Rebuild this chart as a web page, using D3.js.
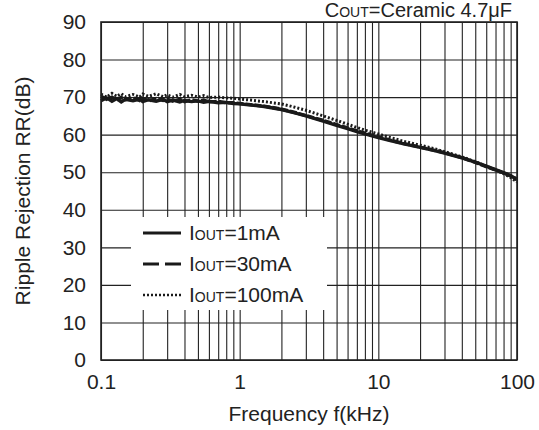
<!DOCTYPE html>
<html>
<head>
<meta charset="utf-8">
<script src="https://cdn.jsdelivr.net/npm/d3@7"></script>
<style>
  body { margin: 0; background: #fff; }
  text { font-family: "Liberation Sans", Arial, sans-serif; fill: #222; }
</style>
</head>
<body>
<script>
"use strict";

// frequency points (kHz)
var freq = [0.1, 0.11, 0.12, 0.13, 0.14, 0.15, 0.17, 0.19, 0.2, 0.22, 0.25, 0.28, 0.3, 0.33, 0.37, 0.4,
  0.45, 0.5, 0.55, 0.6, 0.7, 0.8, 0.9, 1, 1.2, 1.5, 2, 2.5, 3, 4, 5, 6, 7, 8, 10, 12, 15, 20, 25, 30,
  40, 50, 60, 70, 80, 90, 100];

// ripple rejection (dB)
var rr1mA = [69.0, 69.8, 68.9, 69.6, 68.7, 69.4, 69.0, 69.5, 68.8, 69.3, 68.9, 69.4, 68.8, 69.2, 68.7, 69.1,
  68.8, 69.0, 68.6, 68.9, 68.5, 68.6, 68.3, 68.2, 67.9, 67.5, 66.7, 65.8, 65.0, 63.6, 62.5, 61.6, 60.8, 60.2,
  59.2, 58.5, 57.6, 56.6, 55.8, 55.1, 53.8, 52.7, 51.6, 50.7, 49.9, 49.1, 48.0];
var rr30mA = [70.2, 69.4, 70.0, 69.2, 69.9, 69.3, 69.8, 69.1, 69.7, 69.0, 69.6, 69.1, 69.5, 68.9, 69.4, 68.8,
  69.3, 68.9, 69.2, 68.7, 68.9, 68.5, 68.5, 68.3, 68.0, 67.6, 66.8, 65.9, 65.1, 63.8, 62.7, 61.8, 61.0, 60.4,
  59.4, 58.6, 57.7, 56.7, 55.9, 55.2, 53.9, 52.6, 51.5, 50.6, 49.8, 49.0, 48.2];
var rr100mA = [70.8, 70.0, 71.0, 70.2, 70.9, 70.1, 70.7, 70.0, 70.8, 70.2, 70.9, 70.1, 70.6, 70.0, 70.7, 70.1,
  70.5, 70.0, 70.4, 69.9, 70.0, 69.8, 69.7, 69.5, 69.2, 68.8, 68.2, 67.3, 66.5, 65.0, 63.8, 62.8, 61.9, 61.2,
  60.2, 59.3, 58.3, 57.2, 56.3, 55.5, 54.1, 52.8, 51.6, 50.6, 49.6, 48.6, 47.4];

var xTicks = [0.1, 1, 10, 100];
var xTickLabels = ["0.1", "1", "10", "100"];
var yTicks = [0, 10, 20, 30, 40, 50, 60, 70, 80, 90];
var seriesNames = ["=1mA", "=30mA", "=100mA"];
var seriesDash = [null, "16,6", "2,2"];

var margin = {top: 22, right: 22, bottom: 70, left: 101},
    width = 539 - margin.left - margin.right,
    height = 430 - margin.top - margin.bottom;

var xScale = d3.scaleLog().domain([0.1, 100]).range([0, width]);
var yScale = d3.scaleLinear().domain([0, 90]).range([height, 0]);

var svg = d3.select("body").append("svg")
    .attr("width", 539)
    .attr("height", 430);
var view = svg.append("g")
    .attr("transform", "translate(" + margin.left + "," + margin.top + ")");

// gridlines: every 1..9 of each decade, every 10 dB
var minor = [];
[0.1, 1, 10].forEach(function(d) {
  for (var k = 1; k < 10; k++) minor.push(d * k);
});
minor.push(100);

var xGrid = d3.axisBottom(xScale).tickValues(minor).tickSizeInner(-height).tickSizeOuter(0).tickFormat("");
var yGrid = d3.axisLeft(yScale).tickValues(yTicks).tickSizeInner(-width).tickSizeOuter(0).tickFormat("");

view.append("g").attr("class", "grid")
    .attr("transform", "translate(0," + height + ")")
    .call(xGrid);
view.append("g").attr("class", "grid")
    .call(yGrid);
view.selectAll(".grid .domain").remove();
view.selectAll(".grid line").attr("stroke", "#222").attr("stroke-width", 1.1);

// tick labels
var xAxis = d3.axisBottom(xScale).tickValues(xTicks).tickSize(0).tickPadding(14)
    .tickFormat(function(d, i) { return xTickLabels[i]; });
var gx = view.append("g").attr("transform", "translate(0," + height + ")").call(xAxis);
gx.select(".domain").remove();
gx.selectAll("text").attr("font-size", 21).attr("fill", "#222")
    .attr("font-family", "Liberation Sans, Arial, sans-serif").attr("dy", "0.71em");

var yAxis = d3.axisLeft(yScale).tickValues(yTicks).tickSize(0).tickPadding(15);
var gy = view.append("g").call(yAxis);
gy.select(".domain").remove();
gy.selectAll("text").attr("font-size", 21).attr("fill", "#222")
    .attr("font-family", "Liberation Sans, Arial, sans-serif");

// legend background
var lg = view.append("g").attr("transform", "translate(30,195)");
lg.append("rect").attr("width", 196).attr("height", 93).attr("fill", "#fff");

// curves
var line = d3.line()
    .x(function(d) { return xScale(d[0]); })
    .y(function(d) { return yScale(d[1]); });

[rr1mA, rr30mA, rr100mA].forEach(function(vals, i) {
  view.append("path")
      .datum(freq.map(function(f, j) { return [f, vals[j]]; }))
      .attr("fill", "none")
      .attr("stroke", "#1a1a1a")
      .attr("stroke-width", i === 2 ? 3 : 3.4)
      .attr("stroke-dasharray", i === 1 ? "7,2" : seriesDash[i])
      .attr("d", line);
});

// legend entries
seriesNames.forEach(function(name, i) {
  var yy = 16 + i * 31;
  lg.append("line")
      .attr("x1", 12).attr("x2", 50)
      .attr("y1", yy).attr("y2", yy)
      .attr("stroke", "#1a1a1a")
      .attr("stroke-width", i === 2 ? 2.5 : 3.2)
      .attr("stroke-dasharray", seriesDash[i]);
  var t = lg.append("text").attr("x", 58).attr("y", yy + 7).attr("font-size", 21);
  t.append("tspan").text("I");
  t.append("tspan").attr("font-size", 14).text("OUT");
  t.append("tspan").text(name);
});

// border
view.append("rect")
    .attr("width", width).attr("height", height)
    .attr("fill", "none").attr("stroke", "#222").attr("stroke-width", 1.6);

// title, kept fully inside the page
var title = svg.append("text").attr("x", 512).attr("y", 17)
    .attr("text-anchor", "end").attr("font-size", 20);
title.append("tspan").text("C");
title.append("tspan").attr("font-size", 14).text("OUT");
title.append("tspan").text("=Ceramic 4.7\u03bcF");

// axis titles
svg.append("text")
    .attr("x", margin.left + width / 2).attr("y", 421)
    .attr("text-anchor", "middle").attr("font-size", 21)
    .text("Frequency f(kHz)");
svg.append("text")
    .attr("transform", "translate(30," + (margin.top + height / 2) + ") rotate(-90)")
    .attr("text-anchor", "middle").attr("font-size", 21)
    .text("Ripple Rejection RR(dB)");
</script>
</body>
</html>
